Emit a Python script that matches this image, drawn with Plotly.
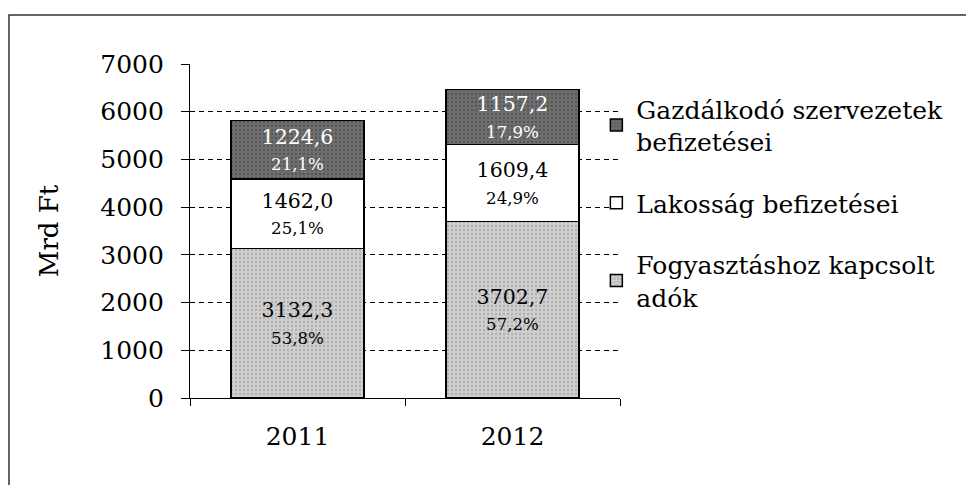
import plotly.graph_objects as go

years = ["2011", "2012"]
fogyasztas = [3132.3, 3702.7]
lakossag = [1462.0, 1609.4]
gazdalkodo = [1224.6, 1157.2]
fogy_pct = ["53,8%", "57,2%"]
lak_pct = ["25,1%", "24,9%"]
gazd_pct = ["21,1%", "17,9%"]
names = ["Fogyasztáshoz kapcsolt<br>adók", "Lakosság befizetései", "Gazdálkodó szervezetek<br>befizetései"]
y_ticks = [0, 1000, 2000, 3000, 4000, 5000, 6000, 7000]

FONT = "DejaVu Serif"

def fmt(v):
    return f"{v:.1f}".replace(".", ",")

def labels(vals, pcts):
    return [f"{fmt(v)}<br><span style='font-size:17px'>{p}</span>" for v, p in zip(vals, pcts)]

fig = go.Figure()
series = [
    (fogyasztas, fogy_pct, names[0], "#cfcfcf", "#8a8a8a", "black", "g1", 3),
    (lakossag, lak_pct, names[1], "white", None, "black", "g2", 2),
    (gazdalkodo, gazd_pct, names[2], "#6e6e6e", "#3a3a3a", "white", "g3", 1),
]
for vals, pcts, name, col, dots, tcol, grp, rank in series:
    marker = dict(color=col, line=dict(color="black", width=1.5))
    if dots:
        marker["pattern"] = dict(shape=".", fgcolor=dots, bgcolor=col, size=4, solidity=0.25)
    fig.add_trace(go.Bar(
        x=years, y=vals, name=name, marker=marker,
        text=labels(vals, pcts), textposition="inside", insidetextanchor="middle",
        textfont=dict(family=FONT, size=21, color=tcol),
        legendgroup=grp, legendrank=rank, hoverinfo="skip",
    ))

fig.update_layout(
    barmode="stack",
    bargap=0.38,
    width=966, height=477,
    margin=dict(l=182, r=354, t=56, b=87),
    paper_bgcolor="white", plot_bgcolor="white",
    font=dict(family=FONT, color="black"),
    uniformtext=dict(mode="show", minsize=10),
    legend=dict(
        x=0.945, xanchor="left", y=0.934, yanchor="top",
        traceorder="grouped", tracegroupgap=26,
        font=dict(family=FONT, size=25, color="black"),
        itemwidth=30, bgcolor="rgba(0,0,0,0)",
    ),
    xaxis=dict(
        showline=True, linecolor="black", linewidth=1.2,
        ticks="outside", ticklen=7, tickcolor="black", tickson="boundaries",
        tickfont=dict(family=FONT, size=25, color="black"),
        ticklabelstandoff=16,
        showgrid=False,
    ),
    yaxis=dict(
        range=[0, 7000], tickvals=y_ticks,
        showline=True, linecolor="black", linewidth=1.2,
        ticks="outside", ticklen=8, tickcolor="black",
        tickfont=dict(family=FONT, size=25, color="black"),
        ticklabelstandoff=12,
        showgrid=True, gridcolor="black", gridwidth=1, griddash="5px,4px",
        title=dict(text="Mrd Ft", font=dict(family=FONT, size=26, color="black"), standoff=34),
        zeroline=False,
    ),
    shapes=[dict(type="rect", xref="paper", yref="paper",
                 x0=-0.421, x1=1.9, y0=-0.4, y1=1.147,
                 line=dict(color="#333", width=1.5), layer="below")],
)

fig.write_html("out.html")
